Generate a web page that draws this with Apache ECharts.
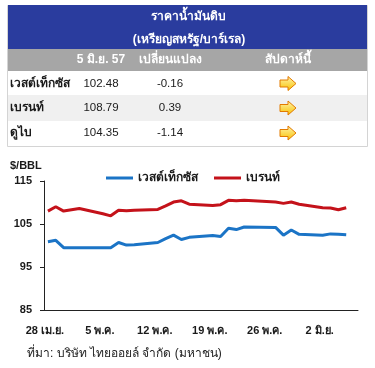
<!DOCTYPE html>
<html><head><meta charset="utf-8">
<script src="https://cdn.jsdelivr.net/npm/echarts@6/dist/echarts.min.js"></script>
<style>html,body{margin:0;padding:0;background:#fff}#c{width:375px;height:368px}</style>
</head><body><div id="c"></div>
<script>
var categories = ["28 เม.ย.","29 เม.ย.","30 เม.ย.","1 พ.ค.","2 พ.ค.","3 พ.ค.","4 พ.ค.",
 "5 พ.ค.","6 พ.ค.","7 พ.ค.","8 พ.ค.","9 พ.ค.","10 พ.ค.","11 พ.ค.",
 "12 พ.ค.","13 พ.ค.","14 พ.ค.","15 พ.ค.","16 พ.ค.","17 พ.ค.","18 พ.ค.",
 "19 พ.ค.","20 พ.ค.","21 พ.ค.","22 พ.ค.","23 พ.ค.","24 พ.ค.","25 พ.ค.",
 "26 พ.ค.","27 พ.ค.","28 พ.ค.","29 พ.ค.","30 พ.ค.","31 พ.ค.","1 มิ.ย.",
 "2 มิ.ย.","3 มิ.ย.","4 มิ.ย.","5 มิ.ย.","6 มิ.ย."];
var wti = [100.85,101.2,99.5,99.5,99.5,null,null,
 99.5,99.5,100.7,100.1,100.2,null,null,
 100.7,101.6,102.4,101.4,101.9,null,null,
 102.3,102.1,104.0,103.7,104.3,null,null,
 null,104.2,102.4,103.6,102.6,null,null,
 102.4,102.7,102.6,102.48,null];
var brent = [108.0,109.0,108.0,108.3,108.6,null,null,
 107.4,106.9,108.2,108.1,108.2,null,null,
 108.4,109.2,110.1,110.4,109.6,null,null,
 109.3,109.5,110.5,110.4,110.5,null,null,
 null,110.1,109.8,110.1,109.6,null,null,
 108.8,108.7,108.3,108.79,null];
var seriesNames = ["เวสต์เท็กซัส","เบรนท์"];
var yTicks = {min:85, max:115, interval:10};

var tableTitle = ["ราคาน้ำมันดิบ","(เหรียญสหรัฐ/บาร์เรล)"];
var tableHeaders = ["5 มิ.ย. 57","เปลี่ยนแปลง","สัปดาห์นี้"];
var tableRows = ["เวสต์เท็กซัส","เบรนท์","ดูไบ"];
var tablePrices = ["102.48","108.79","104.35"];
var tableChanges = ["-0.16","0.39","-1.14"];
var unitLabel = "$/BBL";
var sourceText = "ที่มา: บริษัท ไทยออยล์ จำกัด (มหาชน)";

var FONT = "Arial, 'Liberation Sans', sans-serif";
var g = [];
g.push({type:'rect', shape:{x:7.5,y:5.5,width:360,height:141}, style:{fill:'#fff',stroke:'#d4d4d4',lineWidth:1}});
g.push({type:'rect', shape:{x:8,y:5,width:359,height:44}, style:{fill:'#2a3c9e'}});
g.push({type:'rect', shape:{x:8,y:49,width:359,height:22}, style:{fill:'#a6a6a6'}});
g.push({type:'rect', shape:{x:8,y:95,width:359,height:26}, style:{fill:'#f0f0f0'}});
g.push({type:'text', style:{text:tableTitle[0], x:188, y:17, align:'center', verticalAlign:'middle', fill:'#fff', font:'bold 12px '+FONT}});
g.push({type:'text', style:{text:tableTitle[1], x:189, y:40, align:'center', verticalAlign:'middle', fill:'#fff', font:'bold 12px '+FONT}});
var hx = [101, 170, 288];
tableHeaders.forEach(function(h,i){
  g.push({type:'text', style:{text:h, x:hx[i], y:60, align:'center', verticalAlign:'middle', fill:'#fff', font:'bold 12px '+FONT}});
});
var ry = [83.5, 108, 133];
tableRows.forEach(function(r,i){
  g.push({type:'text', style:{text:r, x:10, y:ry[i], align:'left', verticalAlign:'middle', fill:'#1a1a1a', font:'bold 12px '+FONT}});
  g.push({type:'text', style:{text:tablePrices[i], x:hx[0], y:ry[i], align:'center', verticalAlign:'middle', fill:'#1a1a1a', font:'11.5px '+FONT}});
  g.push({type:'text', style:{text:tableChanges[i], x:hx[1], y:ry[i], align:'center', verticalAlign:'middle', fill:'#1a1a1a', font:'11.5px '+FONT}});
  var cy = ry[i];
  g.push({type:'polygon', shape:{points:[[280,cy-3.5],[288,cy-3.5],[288,cy-7],[296,cy],[288,cy+7],[288,cy+3.5],[280,cy+3.5]]},
    style:{fill:new echarts.graphic.LinearGradient(0,0,0,1,[{offset:0,color:'#fff6b0'},{offset:1,color:'#f7c000'}]), stroke:'#e27a00', lineWidth:1}});
});
g.push({type:'text', style:{text:unitLabel, x:10, y:166, align:'left', verticalAlign:'middle', fill:'#1a1a1a', font:'bold 11px '+FONT}});
g.push({type:'text', style:{text:sourceText, x:27, y:354, align:'left', verticalAlign:'middle', fill:'#222', font:'12px '+FONT}});

var chart = echarts.init(document.getElementById('c'), null, {renderer:'canvas'});
chart.setOption({
  animation:false,
  textStyle:{fontFamily:FONT},
  graphic:g,
  legend:{left:101, top:167, itemWidth:27, itemHeight:3, itemGap:16, icon:'rect',
    textStyle:{fontSize:12, fontWeight:'bold', color:'#1a1a1a'},
    data:seriesNames},
  grid:{left:44, right:17, top:181, bottom:58, containLabel:false},
  xAxis:{type:'category', data:categories, boundaryGap:true,
    axisLine:{lineStyle:{color:'#222', width:1}},
    axisTick:{length:4, interval:function(i){return i%7===0;}, lineStyle:{color:'#222'}},
    axisLabel:{interval:function(i){return i%7===0;}, fontSize:11, fontWeight:'bold', color:'#1a1a1a', margin:15, padding:[0,6,0,0]}},
  yAxis:{type:'value', min:yTicks.min, max:yTicks.max, interval:yTicks.interval,
    splitLine:{show:false},
    axisLine:{show:true, lineStyle:{color:'#222'}},
    axisTick:{show:true, length:4, lineStyle:{color:'#222'}},
    axisLabel:{fontSize:11, fontWeight:'bold', color:'#1a1a1a', margin:12}},
  series:[
    {name:seriesNames[0], type:'line', data:wti, connectNulls:true, showSymbol:false, symbol:'none',
      lineStyle:{color:'#1b74c6', width:3}, itemStyle:{color:'#1b74c6'}},
    {name:seriesNames[1], type:'line', data:brent, connectNulls:true, showSymbol:false, symbol:'none',
      lineStyle:{color:'#c4121a', width:3}, itemStyle:{color:'#c4121a'}}
  ]
});
</script></body></html>
